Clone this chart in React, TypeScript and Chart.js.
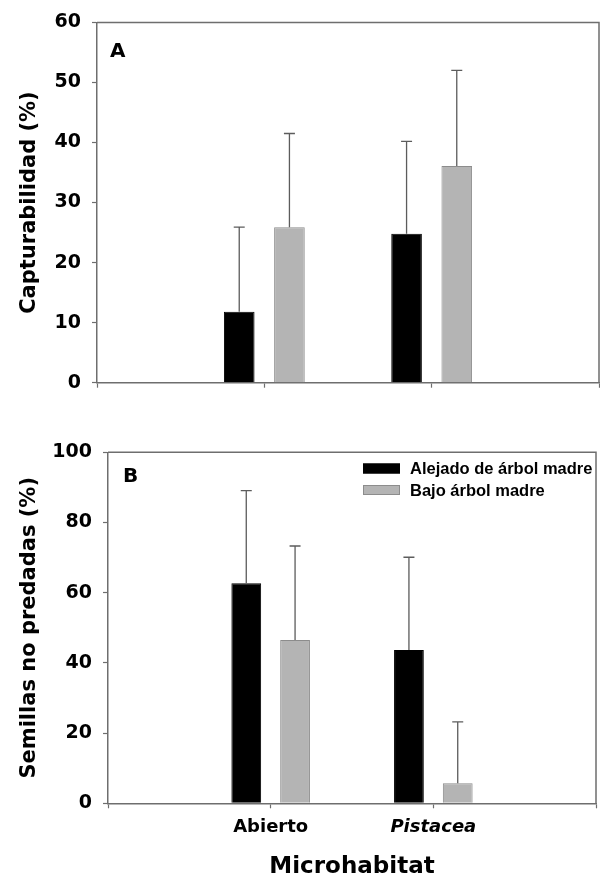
import React, { useEffect, useRef } from 'react';
import { Chart, registerables } from 'chart.js';

Chart.register(...registerables);

// ---------- data ----------
const categories = ['', 'Abierto', 'Pistacea', ''];
const seriesNames = ['Alejado de árbol madre', 'Bajo árbol madre'];

// Panel A: Capturabilidad (%)
const capAlejado = [null, 11.8, 24.8, null];
const capAlejadoErr = [null, 14.1, 15.4, null];
const capBajo = [null, 25.9, 36.1, null];
const capBajoErr = [null, 15.6, 15.9, null];
const capMax = 60;
const capStep = 10;

// Panel B: Semillas no predadas (%)
const semAlejado = [null, 62.7, 43.7, null];
const semAlejadoErr = [null, 26.4, 26.4, null];
const semBajo = [null, 46.5, 5.7, null];
const semBajoErr = [null, 26.8, 17.5, null];
const semMax = 100;
const semStep = 20;

const panelTitles = ['A', 'B'];
const yTitles = ['Capturabilidad (%)', 'Semillas no predadas (%)'];
const xTitle = 'Microhabitat';

// ---------- styles ----------
const AXIS = '#6e6e6e';
const BLACK = '#000000';
const GREY = '#b4b4b4';
const GREY_BORDER = '#8c8c8c';
const ERR = '#5c5c5c';
const FONT = "'DejaVu Sans', sans-serif";
const LEGEND_FONT = "'Liberation Sans', Arial, sans-serif";

function errorBarPlugin(errs: (number | null)[][]) {
  return {
    id: 'errorBars',
    afterDatasetsDraw(chart: any) {
      const ctx = chart.ctx;
      const ys = chart.scales.y;
      chart.data.datasets.forEach((ds: any, d: number) => {
        const meta = chart.getDatasetMeta(d);
        meta.data.forEach((el: any, i: number) => {
          const v = ds.data[i];
          const e = errs[d][i];
          if (v == null || e == null) return;
          const x = el.x;
          const yTop = ys.getPixelForValue(v + e);
          ctx.save();
          ctx.strokeStyle = ERR;
          ctx.lineWidth = 1.3;
          ctx.beginPath();
          ctx.moveTo(x, el.y);
          ctx.lineTo(x, yTop);
          ctx.moveTo(x - 5.5, yTop);
          ctx.lineTo(x + 5.5, yTop);
          ctx.stroke();
          ctx.restore();
        });
      });
    },
  };
}

function framePlugin(letter: string, dx: number, dy: number) {
  return {
    id: 'frame',
    afterDraw(chart: any) {
      const { ctx, chartArea } = chart;
      ctx.save();
      ctx.strokeStyle = AXIS;
      ctx.lineWidth = 1.5;
      ctx.beginPath();
      ctx.moveTo(chartArea.left, chartArea.top);
      ctx.lineTo(chartArea.right, chartArea.top);
      ctx.lineTo(chartArea.right, chartArea.bottom);
      ctx.stroke();
      ctx.fillStyle = '#000';
      ctx.font = `bold 20px ${FONT}`;
      ctx.textBaseline = 'alphabetic';
      ctx.textAlign = 'left';
      ctx.fillText(letter, chartArea.left + dx, chartArea.top + dy);
      ctx.restore();
    },
  };
}

const legendPlugin = {
  id: 'customLegend',
  afterDraw(chart: any) {
    const { ctx, chartArea } = chart;
    const x0 = chartArea.right - 233;
    const rows = [chartArea.top + 16.2, chartArea.top + 37.7];
    ctx.save();
    chart.data.datasets.forEach((ds: any, i: number) => {
      const cy = rows[i];
      ctx.fillStyle = ds.backgroundColor;
      ctx.fillRect(x0, cy - 5, 37, 10);
      ctx.strokeStyle = ds.borderColor;
      ctx.lineWidth = 1;
      ctx.strokeRect(x0 + 0.5, cy - 4.5, 36, 9);
      ctx.fillStyle = '#000';
      ctx.font = `bold 16.5px ${LEGEND_FONT}`;
      ctx.textBaseline = 'middle';
      ctx.textAlign = 'left';
      ctx.fillText(ds.label, x0 + 47, cy + 1);
    });
    ctx.restore();
  },
};

function makeConfig(opts: {
  a: (number | null)[];
  b: (number | null)[];
  ea: (number | null)[];
  eb: (number | null)[];
  max: number;
  step: number;
  yTitle: string;
  showX: boolean;
  padTop: number;
  padRight: number;
  yWidth: number;
  xHeight: number;
  letter: string;
  ldx: number;
  ldy: number;
  legend: boolean;
}) {
  const plugins: any[] = [errorBarPlugin([opts.ea, opts.eb]), framePlugin(opts.letter, opts.ldx, opts.ldy)];
  if (opts.legend) plugins.push(legendPlugin);
  return {
    type: 'bar' as const,
    data: {
      labels: categories,
      datasets: [
        {
          label: seriesNames[0],
          data: opts.a,
          backgroundColor: BLACK,
          borderColor: BLACK,
          borderWidth: 1,
          categoryPercentage: 0.6,
          barPercentage: 0.61,
        },
        {
          label: seriesNames[1],
          data: opts.b,
          backgroundColor: GREY,
          borderColor: GREY_BORDER,
          borderWidth: 1,
          categoryPercentage: 0.6,
          barPercentage: 0.61,
        },
      ],
    },
    options: {
      responsive: false,
      animation: false as const,
      devicePixelRatio: 1,
      layout: { padding: { top: opts.padTop, right: opts.padRight, left: 0, bottom: 0 } },
      plugins: { legend: { display: false }, tooltip: { enabled: false } },
      scales: {
        x: {
          type: 'category' as const,
          offset: false,
          afterFit: (s: any) => {
            s.height = opts.xHeight;
          },
          border: { display: true, color: AXIS, width: 1.5 },
          grid: {
            offset: false,
            drawOnChartArea: false,
            drawTicks: true,
            tickLength: 5,
            tickColor: AXIS,
            tickWidth: 1.2,
          },
          ticks: {
            display: opts.showX,
            autoSkip: false,
            maxRotation: 0,
            padding: 3,
            color: '#000',
            font: (c: any) => ({
              family: FONT,
              size: 18,
              weight: 'bold',
              lineHeight: 1.8,
              style: c.index === 2 ? 'italic' : 'normal',
            }),
          },
          title: {
            display: opts.showX,
            text: xTitle,
            color: '#000',
            font: { family: FONT, size: 23, weight: 'bold', lineHeight: 1 },
            padding: { top: -1, bottom: 0 },
          },
        },
        y: {
          min: 0,
          max: opts.max,
          afterFit: (s: any) => {
            s.width = opts.yWidth;
          },
          border: { display: true, color: AXIS, width: 1.5 },
          grid: {
            drawOnChartArea: false,
            drawTicks: true,
            tickLength: 5,
            tickColor: AXIS,
            tickWidth: 1.2,
          },
          ticks: {
            stepSize: opts.step,
            padding: 11,
            color: '#000',
            font: { family: FONT, size: 19, weight: 'bold' },
          },
          title: {
            display: true,
            text: opts.yTitle,
            color: '#000',
            font: { family: FONT, size: 21, weight: 'bold', lineHeight: 1 },
            padding: { top: 19.5, bottom: 0 },
          },
        },
      },
    },
    plugins,
  };
}

export default function App() {
  const refA = useRef<HTMLCanvasElement>(null);
  const refB = useRef<HTMLCanvasElement>(null);

  useEffect(() => {
    if (!refA.current || !refB.current) return;
    const chartA = new Chart(
      refA.current,
      makeConfig({
        a: capAlejado,
        b: capBajo,
        ea: capAlejadoErr,
        eb: capBajoErr,
        max: capMax,
        step: capStep,
        yTitle: yTitles[0],
        showX: false,
        padTop: 20.7,
        padRight: 1,
        yWidth: 97,
        xHeight: 37.3,
        letter: panelTitles[0],
        ldx: 13,
        ldy: 35,
        legend: false,
      }) as any
    );
    const chartB = new Chart(
      refB.current,
      makeConfig({
        a: semAlejado,
        b: semBajo,
        ea: semAlejadoErr,
        eb: semBajoErr,
        max: semMax,
        step: semStep,
        yTitle: yTitles[1],
        showX: true,
        padTop: 32.3,
        padRight: 4,
        yWidth: 108,
        xHeight: 75.7,
        letter: panelTitles[1],
        ldx: 15,
        ldy: 29.7,
        legend: true,
      }) as any
    );
    return () => {
      chartA.destroy();
      chartB.destroy();
    };
  }, []);

  return (
    <div style={{ position: 'absolute', left: 0, top: 0, width: 600, height: 879, background: '#fff' }}>
      <canvas ref={refA} width={600} height={420} style={{ position: 'absolute', left: 0, top: 0, display: 'block' }} />
      <canvas ref={refB} width={600} height={459} style={{ position: 'absolute', left: 0, top: 420, display: 'block' }} />
    </div>
  );
}
